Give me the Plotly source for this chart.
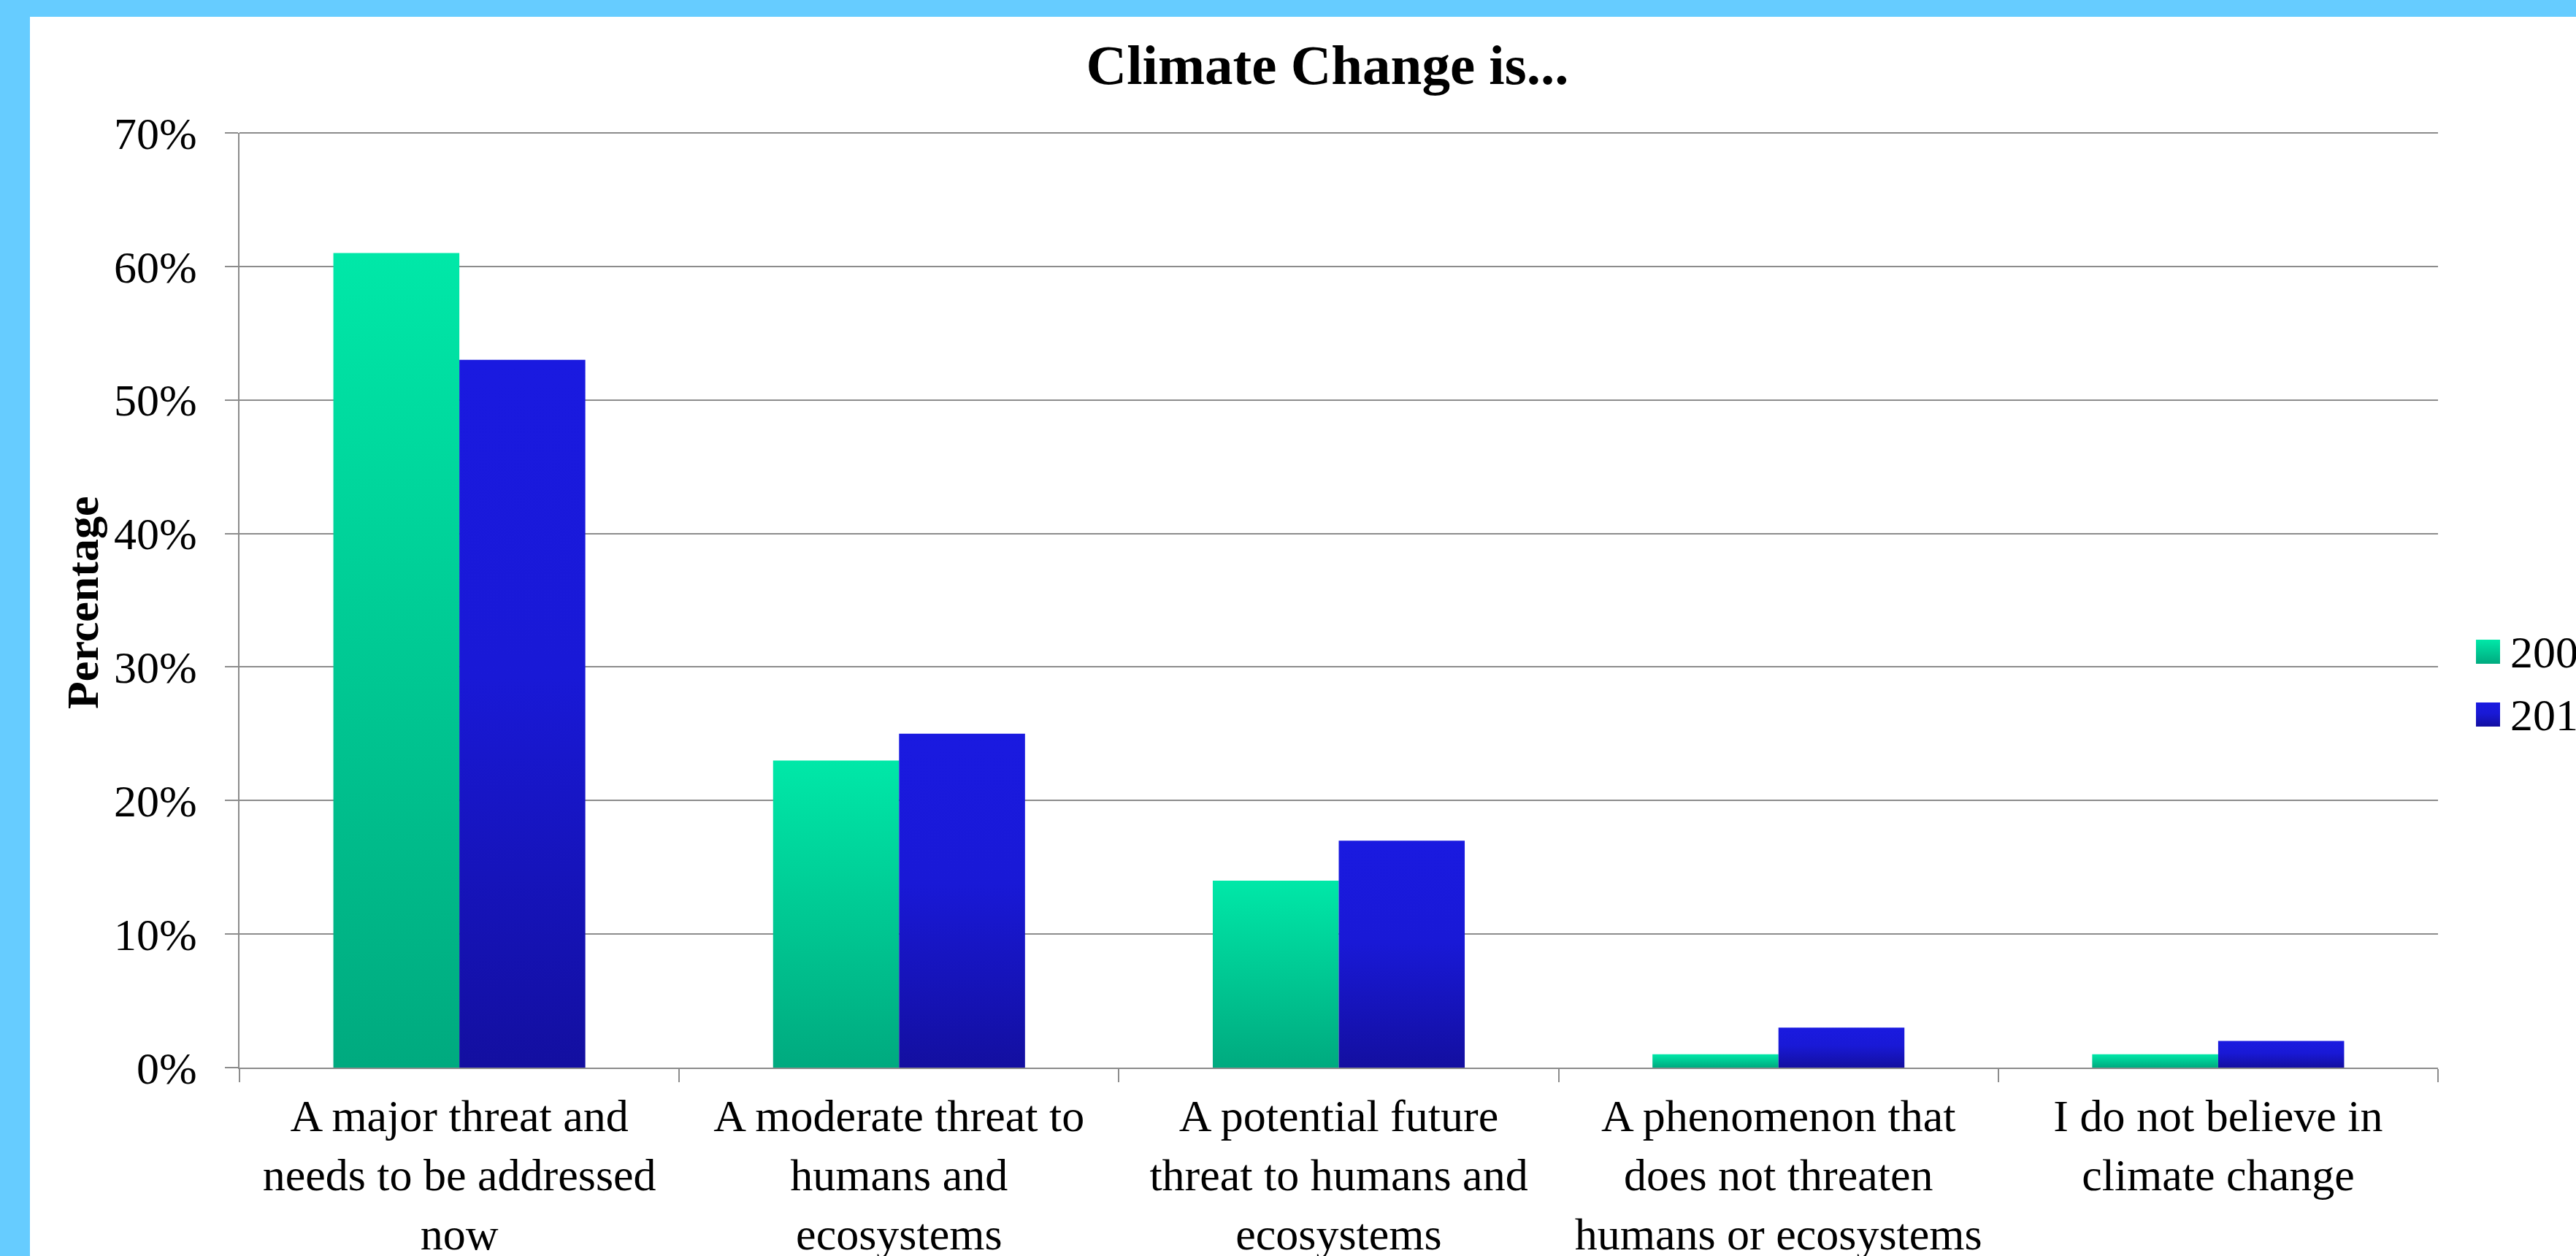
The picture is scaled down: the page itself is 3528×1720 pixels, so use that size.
import json
import plotly.graph_objects as go

# ---- data ----
categories = [
    "A major threat and<br>needs to be addressed<br>now",
    "A moderate threat to<br>humans and<br>ecosystems",
    "A potential future<br>threat to humans and<br>ecosystems",
    "A phenomenon that<br>does not threaten<br>humans or ecosystems",
    "I do not believe in<br>climate change",
]
series_names = ["2009", "2011"]
values_first = [61, 23, 14, 1, 1]
values_second = [53, 25, 17, 3, 2]
y_tickvals = [0, 10, 20, 30, 40, 50, 60, 70]
y_ticktext = ["0%", "10%", "20%", "30%", "40%", "50%", "60%", "70%"]

# ---- style ----
W, H = 3528, 1720
L, R, T, B = 328, 189, 182, 258
PW, PH = W - L - R, H - T - B
FONT = "Liberation Serif, Times New Roman, serif"
colors = ["#00C892", "#1616C0"]
gradients = [
    [[0, "#00E8A8"], [1, "#00AA7F"]],
    [[0, "#1A1AE0"], [0.45, "#1919D6"], [1, "#130FA0"]],
]
GRID = "#8C8C8C"


def px_x(px):
    return (px - L) / PW


def px_y(py):
    return (H - B - py) / PH


fig = go.Figure()
for name, vals, col in zip(series_names, [values_first, values_second], colors):
    fig.add_trace(go.Bar(x=categories, y=vals, name=name, marker=dict(color=col, line=dict(width=0)),
                         showlegend=False))

shapes = [
    # white slide area over blue background
    dict(type="rect", xref="paper", yref="paper", x0=px_x(41), x1=px_x(W + 50),
         y0=px_y(H + 50), y1=px_y(23), fillcolor="white", line=dict(width=0), layer="below"),
]
annotations = [
    dict(xref="paper", yref="paper", x=px_x(113), y=px_y(826), xanchor="center", yanchor="middle",
         text="<b>Percentage</b>", textangle=-90, showarrow=False,
         font=dict(family=FONT, size=62, color="black")),
]
# manual legend (large swatches)
for i, (name, col) in enumerate(zip(series_names, colors)):
    top = 876 + i * 86
    shapes.append(dict(type="rect", xref="paper", yref="paper", x0=px_x(3391), x1=px_x(3424),
                       y0=px_y(top + 33), y1=px_y(top), fillcolor=col, line=dict(width=0)))
    annotations.append(dict(xref="paper", yref="paper", x=px_x(3436), y=px_y(top + 17),
                            xanchor="left", yanchor="middle", text=name, showarrow=False,
                            font=dict(family=FONT, size=62, color="black")))
# top gridline at the range edge (not clipped)
shapes.append(dict(type="line", xref="paper", yref="paper", x0=0, x1=1, y0=1, y1=1,
                   line=dict(color=GRID, width=2), layer="above"))

fig.update_layout(
    width=W, height=H,
    margin=dict(l=L, r=R, t=T, b=B, autoexpand=False),
    paper_bgcolor="#66CCFF",
    plot_bgcolor="white",
    barmode="group",
    bargap=0.427,
    bargroupgap=0,
    showlegend=False,
    font=dict(family=FONT, size=62, color="black"),
    title=dict(text="<b>Climate Change is...</b>", x=px_x(1818), xref="paper", xanchor="center",
               y=1 - 88 / H, yref="container", yanchor="middle",
               font=dict(family=FONT, size=77, color="black")),
    shapes=shapes,
    annotations=annotations,
)
fig.update_xaxes(
    showline=True, linecolor=GRID, linewidth=2,
    ticks="outside", tickson="boundaries", ticklen=18, tickwidth=2, tickcolor=GRID,
    showgrid=False, automargin=False, ticklabelstandoff=11,
    tickfont=dict(family=FONT, size=62, color="black"),
)
fig.update_yaxes(
    range=[0, 70], tickvals=y_tickvals, ticktext=y_ticktext,
    showline=True, linecolor=GRID, linewidth=2,
    ticks="outside", ticklen=18, tickwidth=2, tickcolor=GRID,
    showgrid=True, gridcolor=GRID, gridwidth=2, zeroline=False,
    automargin=False, ticklabelstandoff=26,
    tickfont=dict(family=FONT, size=62, color="black"),
)

post = """
document.body.style.margin='0';document.body.style.overflow='hidden';
var gd=document.getElementById('{plot_id}');
var GR=%s;
function applyGrad(){
  var svg=gd.querySelector('.main-svg');
  var defs=svg.querySelector('defs');
  var NS='http://www.w3.org/2000/svg';
  GR.forEach(function(stops,i){
    var id='bargrad'+i;
    if(!document.getElementById(id)){
      var g=document.createElementNS(NS,'linearGradient');
      g.setAttribute('id',id);g.setAttribute('x1','0');g.setAttribute('y1','0');
      g.setAttribute('x2','0');g.setAttribute('y2','1');
      stops.forEach(function(s){var st=document.createElementNS(NS,'stop');
        st.setAttribute('offset',s[0]);st.setAttribute('stop-color',s[1]);g.appendChild(st);});
      defs.appendChild(g);
    }
  });
  var traces=gd.querySelectorAll('.barlayer .trace');
  traces.forEach(function(t,i){t.querySelectorAll('path').forEach(function(p){p.style.fill='url(#bargrad'+i+')';});});
  var sw=gd.querySelectorAll('.layer-above .shapelayer path');
  sw.forEach(function(p,i){if(i<GR.length){p.style.fill='url(#bargrad'+i+')';}});
}
applyGrad();
""" % json.dumps(gradients)

fig.write_html("out.html", config={"displayModeBar": False}, post_script=post)
